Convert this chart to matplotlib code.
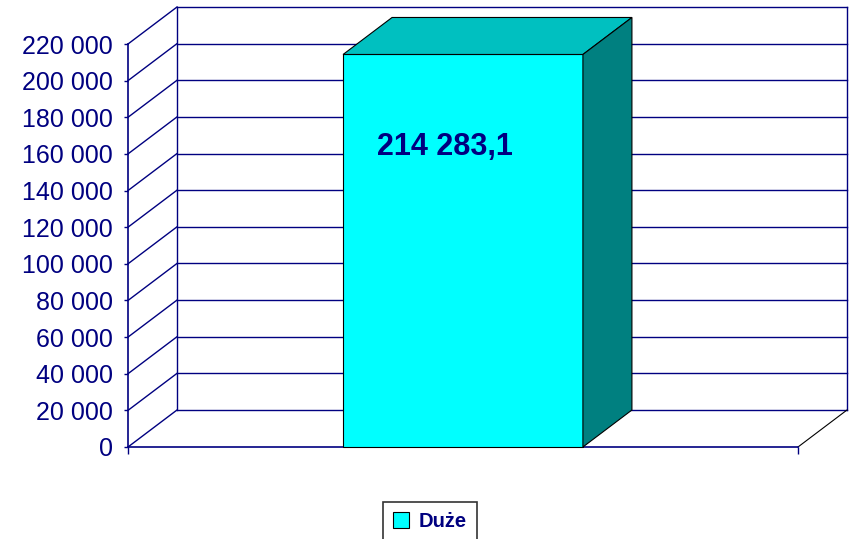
import matplotlib
matplotlib.use("Agg")
import matplotlib.pyplot as plt
from matplotlib.patches import Polygon, Patch
from matplotlib.ticker import FuncFormatter

plt.rcParams['font.family'] = ['Liberation Sans', 'DejaVu Sans']

# data
categories = ["Duże"]
values = [214283.1]
y_ticks = list(range(0, 220001, 20000))

navy = "#000080"
front_col = "#00FFFF"
top_col = "#00C0C0"
side_col = "#008080"

fig = plt.figure(figsize=(8.5, 5.39), dpi=100)
W, H = 850, 539
# front plane of the 3d box (pixels)
x0, x1, yb, yt = 128, 798, 447, 44
ax = fig.add_axes([x0 / W, (H - yb) / H, (x1 - x0) / W, (yb - yt) / H])
ax.set_xlim(-0.5, 0.5)
ax.set_ylim(0, 220000)

# depth offset of the 3d effect, converted to data units
DX = 49 / (x1 - x0) * 1.0
DY = 37 / (yb - yt) * 220000

# back wall + side wall gridlines
for v in y_ticks:
    ax.plot([-0.5 + DX, 0.5 + DX], [v + DY, v + DY], color=navy, lw=1.0, zorder=1, clip_on=False)
    ax.plot([-0.5, -0.5 + DX], [v, v + DY], color=navy, lw=1.0, zorder=1, clip_on=False)
ax.plot([-0.5 + DX, -0.5 + DX], [DY, 220000 + DY], color=navy, lw=1.0, zorder=1, clip_on=False)
ax.plot([0.5 + DX, 0.5 + DX], [DY, 220000 + DY], color=navy, lw=1.0, zorder=1, clip_on=False)
# floor right edge
ax.plot([0.5, 0.5 + DX], [0, DY], color="black", lw=0.8, zorder=1, clip_on=False)

# bar
w = 0.358
for i, v in enumerate(values):
    l, r = i - w / 2, i + w / 2
    ax.add_patch(Polygon([(l, 0), (r, 0), (r, v), (l, v)], closed=True,
                         facecolor=front_col, edgecolor="black", lw=0.8, zorder=3, clip_on=False))
    ax.add_patch(Polygon([(l, v), (r, v), (r + DX, v + DY), (l + DX, v + DY)], closed=True,
                         facecolor=top_col, edgecolor="black", lw=0.8, zorder=3, clip_on=False))
    ax.add_patch(Polygon([(r, 0), (r + DX, DY), (r + DX, v + DY), (r, v)], closed=True,
                         facecolor=side_col, edgecolor="black", lw=0.8, zorder=3, clip_on=False))
    lab = f"{v:,.1f}".replace(",", " ").replace(".", ",")
    ax.text(i - 0.027, v * 0.764, lab, ha="center", va="center", fontsize=22,
            fontweight="bold", color=navy, zorder=5)

# axes styling
ax.set_yticks(y_ticks)
ax.yaxis.set_major_formatter(FuncFormatter(lambda v, p: f"{v:,.0f}".replace(",", " ")))
ax.tick_params(axis="y", direction="out", length=3, width=1, color=navy,
               labelcolor=navy, labelsize=18, pad=8)
ax.set_xticks([-0.5, 0.5])
ax.set_xticklabels([])
ax.tick_params(axis="x", direction="out", length=5, width=1, color=navy)
for s in ["top", "right"]:
    ax.spines[s].set_visible(False)
for s in ["left", "bottom"]:
    ax.spines[s].set_color(navy)
    ax.spines[s].set_linewidth(1.2)
ax.patch.set_visible(False)

handles = [Patch(facecolor=front_col, edgecolor="black", lw=0.8)]
leg = fig.legend(handles, categories, loc="lower center", bbox_to_anchor=(430 / W, -0.004),
                 frameon=True, fancybox=False, edgecolor="black", handlelength=0.8,
                 handleheight=0.8, handletextpad=0.45, borderpad=0.5, borderaxespad=0.0,
                 prop={"size": 14.5, "weight": "bold"})
leg.get_frame().set_linewidth(1.2)
for t in leg.get_texts():
    t.set_color(navy)

fig.savefig("out.png", dpi=100)
